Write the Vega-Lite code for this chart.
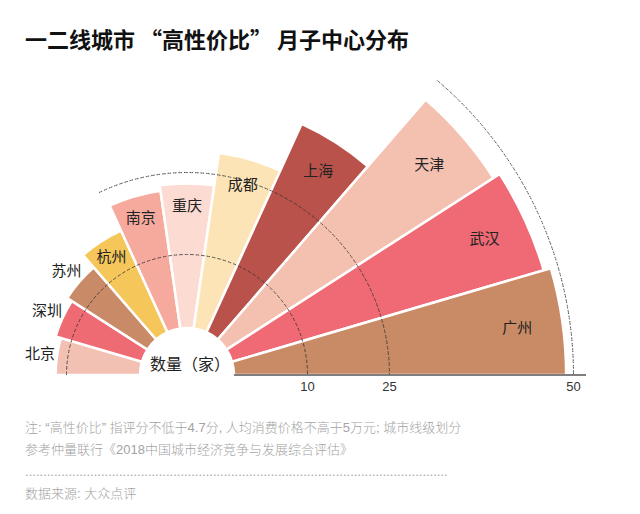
{
  "$schema": "https://vega.github.io/schema/vega-lite/v6.json",
  "background": "white",
  "padding": {"left": 25, "top": 29, "right": 5, "bottom": 5},
  "config": {"view": {"stroke": null}, "concat": {"spacing": 0}, "font": "Noto Sans CJK SC"},
  "datasets": {
    "cities": [
      {"city": "北京", "value": 12, "rank": 1},
      {"city": "深圳", "value": 13, "rank": 2},
      {"city": "苏州", "value": 14, "rank": 3},
      {"city": "杭州", "value": 17, "rank": 4},
      {"city": "南京", "value": 22, "rank": 5},
      {"city": "重庆", "value": 23, "rank": 6},
      {"city": "成都", "value": 28, "rank": 7},
      {"city": "上海", "value": 35, "rank": 8},
      {"city": "天津", "value": 47, "rank": 9},
      {"city": "武汉", "value": 48, "rank": 10},
      {"city": "广州", "value": 49, "rank": 11}
    ],
    "ticks": [{"tick": 10}, {"tick": 25}, {"tick": 50}]
  },
  "title": {
    "text": "一二线城市 “高性价比” 月子中心分布",
    "anchor": "start", "frame": "bounds", "fontSize": 22, "fontWeight": "bold",
    "color": "#111111", "offset": 26, "font": "Noto Sans CJK SC"
  },
  "vconcat": [
    {
      "width": 300,
      "height": 30,
      "title": {
        "text": [
          "注: “高性价比” 指评分不低于4.7分, 人均消费价格不高于5万元; 城市线级划分",
          "参考仲量联行《2018中国城市经济竞争与发展综合评估》",
          ".....................................................................................................................",
          "数据来源: 大众点评"
        ],
        "orient": "bottom", "anchor": "start", "frame": "bounds", "fontSize": 13,
        "fontWeight": 300, "color": "#a3a3a3", "lineHeight": 22, "offset": 28,
        "font": "Liberation Sans, Noto Sans CJK SC"
      },
      "data": {"name": "cities"},
      "transform": [
        {"aggregate": [{"op": "count", "as": "n"}], "groupby": ["city", "value", "rank"]},
        {"stack": "n", "groupby": [], "sort": [{"field": "rank", "order": "ascending"}], "as": ["t0", "t1"]}
      ],
      "resolve": {"scale": {"radius": "independent"}},
      "layer": [
        {
          "mark": {"type": "arc", "stroke": "white", "strokeWidth": 2.5},
          "encoding": {
            "theta": {"field": "t0", "type": "quantitative",
              "scale": {"domain": [0, 11], "range": [-1.5708, 1.5708], "nice": false, "zero": true}},
            "theta2": {"field": "t1"},
            "radius": {"field": "value", "type": "quantitative",
              "scale": {"type": "linear", "domain": [0, 10, 25, 50], "range": [47, 120.5, 202.5, 386.5]}},
            "radius2": {"datum": 0},
            "color": {"field": "city", "type": "nominal", "legend": null,
              "scale": {
                "domain": ["北京", "深圳", "苏州", "杭州", "南京", "重庆", "成都", "上海", "天津", "武汉", "广州"],
                "range": ["#f3c1b3", "#ef6b73", "#c98a68", "#f5c75a", "#f6aa9e", "#fcdcd2", "#fde4b6", "#b9524a", "#f4c1b1", "#ef6a74", "#c98a66"]
              }}
          }
        },
        {
          "data": {"name": "ticks"},
          "transform": [{"filter": {"field": "tick", "equal": 10}}],
          "mark": {"type": "arc", "theta": -1.5708, "theta2": 1.5708, "filled": false, "stroke": "#333333", "strokeWidth": 1, "strokeDash": [1.5, 4]},
          "encoding": {
            "radius": {"field": "tick", "type": "quantitative",
              "scale": {"type": "linear", "domain": [0, 10, 25, 50], "range": [47, 120.5, 202.5, 386.5]}},
            "radius2": {"field": "tick"}
          }
        },
        {
          "data": {"name": "ticks"},
          "transform": [{"filter": {"field": "tick", "equal": 25}}],
          "mark": {"type": "arc", "theta": -0.449, "theta2": 1.5708, "filled": false, "stroke": "#333333", "strokeWidth": 1, "strokeDash": [1.5, 4]},
          "encoding": {
            "radius": {"field": "tick", "type": "quantitative",
              "scale": {"type": "linear", "domain": [0, 10, 25, 50], "range": [47, 120.5, 202.5, 386.5]}},
            "radius2": {"field": "tick"}
          }
        },
        {
          "data": {"name": "ticks"},
          "transform": [{"filter": {"field": "tick", "equal": 50}}],
          "mark": {"type": "arc", "theta": 0.705, "theta2": 1.5708, "filled": false, "stroke": "#333333", "strokeWidth": 1, "strokeDash": [1.5, 4]},
          "encoding": {
            "radius": {"field": "tick", "type": "quantitative",
              "scale": {"type": "linear", "domain": [0, 10, 25, 50], "range": [47, 120.5, 202.5, 386.5]}},
            "radius2": {"field": "tick"}
          }
        },
        {
          "data": {"name": "ticks"},
          "transform": [{"filter": {"field": "tick", "equal": 50}}],
          "mark": {"type": "arc", "theta": 1.5708, "theta2": 1.5708, "filled": false, "stroke": "#555555", "strokeWidth": 1.5, "radiusOffset": 12.5},
          "encoding": {
            "radius": {"field": "tick", "type": "quantitative",
              "scale": {"type": "linear", "domain": [0, 10, 25, 50], "range": [47, 120.5, 202.5, 386.5]}},
            "radius2": {"datum": 0}
          }
        },
        {
          "mark": {"type": "text", "fontSize": 15, "color": "#222222", "thetaOffset": 0.1428, "font": "Noto Sans CJK SC"},
          "encoding": {
            "theta": {"field": "t0", "type": "quantitative"},
            "radius": {"field": "value", "type": "quantitative",
              "scale": {"type": "linear", "domain": [0, 10, 25, 50], "range": [41.4, 106, 178.2, 340.1]}},
            "text": {"condition": {"test": "datum.value >= 15", "field": "city", "type": "nominal"}, "value": ""}
          }
        },
        {
          "mark": {"type": "text", "fontSize": 15, "color": "#222222", "radiusOffset": 17, "thetaOffset": 0.1428, "font": "Noto Sans CJK SC"},
          "encoding": {
            "theta": {"field": "t0", "type": "quantitative"},
            "radius": {"field": "value", "type": "quantitative",
              "scale": {"type": "linear", "domain": [0, 10, 25, 50], "range": [47, 120.5, 202.5, 386.5]}},
            "text": {"condition": {"test": "datum.value < 15", "field": "city", "type": "nominal"}, "value": ""}
          }
        },
        {
          "data": {"name": "ticks"},
          "mark": {"type": "text", "theta": 1.5708, "dy": 12, "fontSize": 13, "color": "#333333", "font": "Liberation Sans"},
          "encoding": {
            "radius": {"field": "tick", "type": "quantitative",
              "scale": {"type": "linear", "domain": [0, 10, 25, 50], "range": [47, 120.5, 202.5, 386.5]}},
            "text": {"field": "tick", "type": "quantitative"}
          }
        },
        {
          "data": {"values": [{"label": "数量（家）"}]},
          "mark": {"type": "text", "fontSize": 16, "dy": -10, "dx": 3, "color": "#222222", "font": "Noto Sans CJK SC"},
          "encoding": {"text": {"field": "label", "type": "nominal"}}
        }
      ]
    }
  ]
}
